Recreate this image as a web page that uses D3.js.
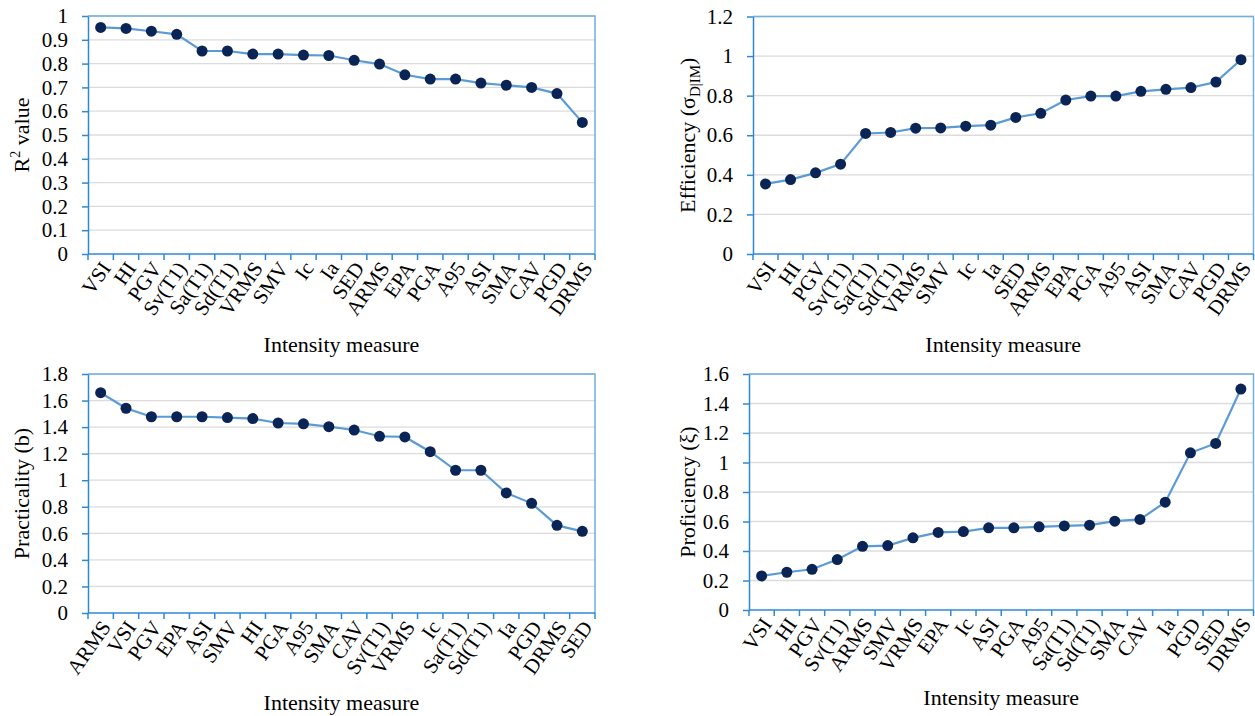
<!DOCTYPE html>
<html>
<head>
<meta charset="utf-8">
<script src="https://cdn.jsdelivr.net/npm/d3@7"></script>
<style>
  html, body { margin: 0; padding: 0; background: #fff; }
  svg { display: block; }
  text { font-family: "Liberation Serif", "Times New Roman", serif; fill: #000; }
</style>
</head>
<body>
<svg id="chart" width="1255" height="716"></svg>
<script>
// ---------- DATA ----------
const r2Categories = ["VSI","HI","PGV","Sv(T1)","Sa(T1)","Sd(T1)","VRMS","SMV","Ic","Ia","SED","ARMS","EPA","PGA","A95","ASI","SMA","CAV","PGD","DRMS"];
const r2Values = [0.952,0.948,0.936,0.923,0.853,0.853,0.840,0.840,0.836,0.834,0.814,0.798,0.753,0.735,0.735,0.718,0.709,0.700,0.674,0.553];

const effCategories = ["VSI","HI","PGV","Sv(T1)","Sa(T1)","Sd(T1)","VRMS","SMV","Ic","Ia","SED","ARMS","EPA","PGA","A95","ASI","SMA","CAV","PGD","DRMS"];
const effValues = [0.354,0.376,0.410,0.454,0.609,0.614,0.636,0.637,0.646,0.651,0.690,0.711,0.778,0.798,0.798,0.822,0.832,0.841,0.869,0.982];

const pracCategories = ["ARMS","VSI","PGV","EPA","ASI","SMV","HI","PGA","A95","SMA","CAV","Sv(T1)","VRMS","Ic","Sa(T1)","Sd(T1)","Ia","PGD","DRMS","SED"];
const pracValues = [1.659,1.542,1.478,1.478,1.478,1.472,1.464,1.431,1.425,1.403,1.378,1.331,1.326,1.215,1.075,1.075,0.904,0.826,0.660,0.615];

const profCategories = ["VSI","HI","PGV","Sv(T1)","ARMS","SMV","VRMS","EPA","Ic","ASI","PGA","A95","Sa(T1)","Sd(T1)","SMA","CAV","Ia","PGD","SED","DRMS"];
const profValues = [0.231,0.256,0.276,0.342,0.432,0.437,0.489,0.526,0.532,0.557,0.557,0.564,0.570,0.575,0.602,0.614,0.731,1.066,1.129,1.498];

const r2Ticks = [0,0.1,0.2,0.3,0.4,0.5,0.6,0.7,0.8,0.9,1];
const effTicks = [0,0.2,0.4,0.6,0.8,1,1.2];
const pracTicks = [0,0.2,0.4,0.6,0.8,1,1.2,1.4,1.6,1.8];
const profTicks = [0,0.2,0.4,0.6,0.8,1,1.2,1.4,1.6];

const xTitle = "Intensity measure";

// ---------- STYLE ----------
const AXIS_COLOR = "#2e88d8";
const BORDER_COLOR = "#72aee0";
const GRID_COLOR = "#dcdcdc";
const LINE_COLOR = "#5b9bd5";
const DOT_COLOR = "#0b2456";
const TICK_FONT = 21;
const TITLE_FONT = 22;
const LABEL_ANGLE = -55;

const svg = d3.select("#chart");

function drawPanel(p) {
  const g = svg.append("g");
  const x = d3.scaleBand().domain(p.categories).range([p.x0, p.x1]).padding(0);
  const y = d3.scaleLinear().domain([0, d3.max(p.ticks)]).range([p.y1, p.y0]);

  g.append("g").selectAll("line").data(p.ticks.filter(t => t > 0)).join("line")
    .attr("x1", p.x0).attr("x2", p.x1)
    .attr("y1", d => y(d)).attr("y2", d => y(d))
    .attr("stroke", GRID_COLOR).attr("stroke-width", 1.3);

  g.append("path")
    .attr("d", `M${p.x0},${p.y0}H${p.x1}V${p.y1}`)
    .attr("fill", "none").attr("stroke", BORDER_COLOR).attr("stroke-width", 1.5);

  const yAxis = d3.axisLeft(y).tickValues(p.ticks).tickFormat(d => String(d))
    .tickSize(6).tickPadding(14).tickSizeOuter(0);
  const ya = g.append("g").attr("transform", `translate(${p.x0},0)`).call(yAxis);
  ya.select(".domain").attr("stroke", AXIS_COLOR).attr("stroke-width", 1.5);
  ya.selectAll(".tick line").attr("stroke", AXIS_COLOR).attr("stroke-width", 1.5);
  ya.selectAll(".tick text").attr("font-size", TICK_FONT)
    .attr("font-family", "Liberation Serif, Times New Roman, serif").attr("fill", "#000");

  const bounds = d3.range(p.categories.length + 1).map(i => p.x0 + i * x.step());
  const xa = g.append("g");
  xa.append("line").attr("x1", p.x0).attr("x2", p.x1).attr("y1", p.y1).attr("y2", p.y1)
    .attr("stroke", AXIS_COLOR).attr("stroke-width", 1.5);
  xa.selectAll("line.tk").data(bounds).join("line").attr("class", "tk")
    .attr("x1", d => d).attr("x2", d => d).attr("y1", p.y1).attr("y2", p.y1 + 6)
    .attr("stroke", AXIS_COLOR).attr("stroke-width", 1.5);
  xa.selectAll("text").data(p.categories).join("text")
    .attr("transform", d => `translate(${x(d) + x.bandwidth() / 2 + 5},${p.y1 + 10}) rotate(${LABEL_ANGLE})`)
    .attr("text-anchor", "end")
    .attr("dy", "0.35em")
    .attr("font-size", TICK_FONT)
    .text(d => d);

  const line = d3.line().x((d, i) => x(p.categories[i]) + x.bandwidth() / 2).y(d => y(d));
  g.append("path").datum(p.values).attr("d", line)
    .attr("fill", "none").attr("stroke", LINE_COLOR).attr("stroke-width", 2.2);

  g.append("g").selectAll("circle").data(p.values).join("circle")
    .attr("cx", (d, i) => x(p.categories[i]) + x.bandwidth() / 2)
    .attr("cy", d => y(d)).attr("r", 5.5).attr("fill", DOT_COLOR);

  g.append("text").attr("x", (p.x0 + p.x1) / 2).attr("y", p.xTitleY)
    .attr("text-anchor", "middle").attr("font-size", TITLE_FONT).text(xTitle);

  const yt = g.append("text")
    .attr("transform", `translate(${p.yTitleX},${(p.y0 + p.y1) / 2}) rotate(-90)`)
    .attr("text-anchor", "middle").attr("font-size", TITLE_FONT);
  p.yTitle(yt);
}

drawPanel({
  categories: r2Categories, values: r2Values, ticks: r2Ticks,
  x0: 88, x1: 595, y0: 16, y1: 254, xTitleY: 352, yTitleX: 29,
  yTitle: t => { t.append("tspan").text("R"); t.append("tspan").attr("font-size", 14).attr("dy", -9).text("2"); t.append("tspan").attr("dy", 9).text(" value"); }
});
drawPanel({
  categories: effCategories, values: effValues, ticks: effTicks,
  x0: 753, x1: 1253.5, y0: 16.5, y1: 254, xTitleY: 352, yTitleX: 695,
  yTitle: t => { t.append("tspan").text("Efficiency ("); t.append("tspan").text("σ");
    t.append("tspan").attr("font-size", 15).attr("dy", 5).text("D|IM"); t.append("tspan").attr("dy", -5).text(")"); }
});
drawPanel({
  categories: pracCategories, values: pracValues, ticks: pracTicks,
  x0: 88, x1: 595, y0: 374, y1: 613, xTitleY: 710, yTitleX: 29,
  yTitle: t => t.text("Practicality (b)")
});
drawPanel({
  categories: profCategories, values: profValues, ticks: profTicks,
  x0: 749, x1: 1253.5, y0: 374, y1: 610, xTitleY: 705, yTitleX: 695,
  yTitle: t => t.text("Proficiency (ξ)")
});
</script>
</body>
</html>
